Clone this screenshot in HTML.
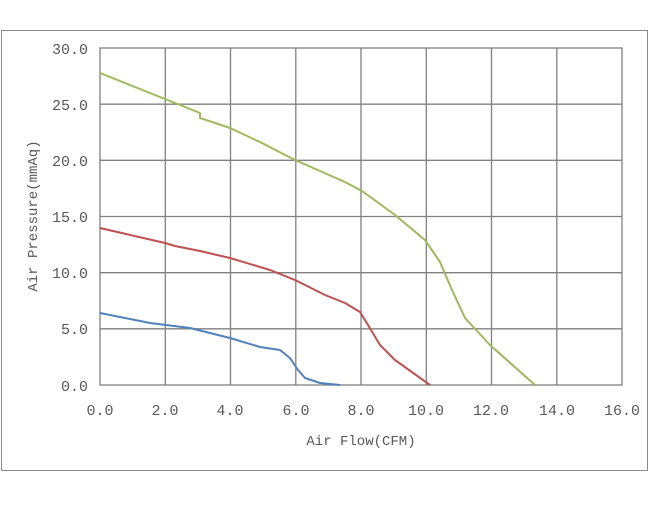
<!DOCTYPE html>
<html><head><style>body{margin:0;background:#fff}</style></head><body>
<svg width="650" height="500" xmlns="http://www.w3.org/2000/svg" font-family="'Liberation Mono','Noto Serif CJK SC',monospace" font-size="15" fill="#595959">
<rect x="1.5" y="30.5" width="646" height="440" fill="#fff" stroke="#888" stroke-width="1"/>
<g stroke="#808080" stroke-width="1.3" fill="none">
<rect x="100" y="48" width="522" height="337"/>
<path d="M165.3 48V385M230.5 48V385M295.8 48V385M361 48V385M426.3 48V385M491.5 48V385M556.8 48V385M100 104.2H622M100 160.3H622M100 216.5H622M100 272.7H622M100 328.8H622"/>
</g>
<g text-anchor="end">
<text x="88" y="54">30.0</text><text x="88" y="110">25.0</text><text x="88" y="166">20.0</text><text x="88" y="222">15.0</text><text x="88" y="278">10.0</text><text x="88" y="334">5.0</text><text x="88" y="391">0.0</text>
</g>
<g text-anchor="middle">
<text x="100" y="415">0.0</text><text x="165" y="415">2.0</text><text x="230" y="415">4.0</text><text x="296" y="415">6.0</text><text x="361" y="415">8.0</text><text x="426" y="415">10.0</text><text x="491" y="415">12.0</text><text x="557" y="415">14.0</text><text x="622" y="415">16.0</text>
<text x="361" y="445" font-size="14">Air Flow(CFM)</text>
<text transform="translate(37 216) rotate(-90)" font-size="14">Air Pressure(mmAq)</text>
</g>
<g fill="none" stroke-width="2" stroke-linejoin="round">
<polyline stroke="#9bbb59" points="100,73 165,99 200,113 200,118 230,128 260,142 295,160 345,182 362,191 395,215 425,240 440,262 452,290 465,318 490,345 535,385"/>
<polyline stroke="#c0504d" points="100,228 165,243 175,246 200,251 230,258 270,270 295,280 325,295 345,303 360,312 368,325 380,345 395,360 430,385"/>
<polyline stroke="#4f81bd" points="100,313 150,323 190,328 230,338 260,347 280,350 290,358 298,370 305,378 320,383 340,385"/>
</g>
</svg>
</body></html>
